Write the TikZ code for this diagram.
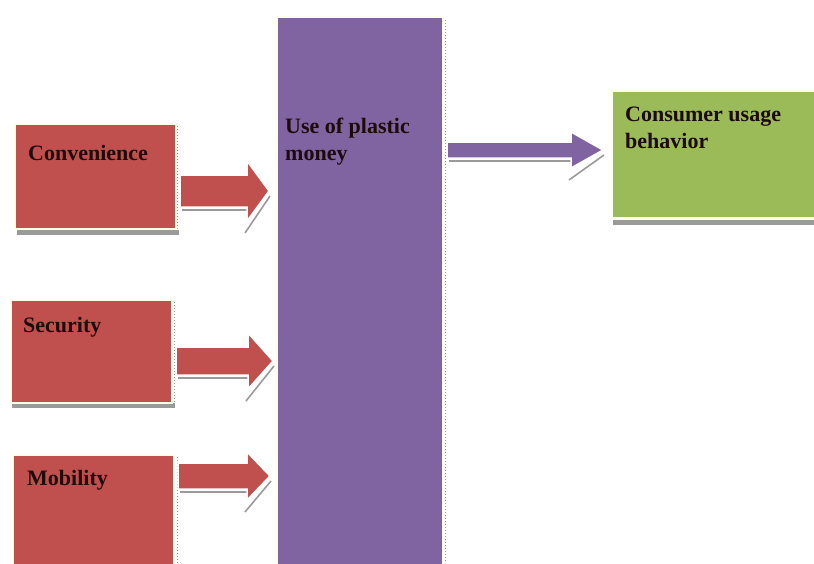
\documentclass[tikz,border=0pt]{standalone}
\usepackage{fontspec}
\setmainfont{Liberation Serif}
\definecolor{cred}{HTML}{C0504D}
\definecolor{cpurple}{HTML}{8064A2}
\definecolor{cgreen}{HTML}{9BBB59}
\definecolor{ctext}{HTML}{1E0A0A}
\definecolor{cshadow}{HTML}{9A9A9A}
\tikzset{
  box/.style={anchor=north west, inner sep=0pt, outer sep=0pt, draw=white!92!yellow, line width=1.2pt},
  lbl/.style={anchor=base west, inner sep=0pt, text=ctext, font=\fontsize{22}{27}\selectfont\bfseries, align=left},
  shadowbox/.style={fill=cshadow},
  arrowshape/.style={draw=white, line width=1.5pt, line join=miter},
}
% \blockarrow{name}{startx}{tipx}{cy}{halfshaft}{halfhead}{headlen}{colour}
\newcommand{\blockarrow}[8]{%
  \fill[cshadow] (#2+2,#4+#5+2) -- (#3-#7,#4+#5+2) -- (#3-#7,#4+#5+4) -- (#2+2,#4+#5+4) -- cycle;
  \draw[cshadow, line width=1.6pt] (#3-#7-2,#4+#6+12) -- (#3+1,#4+5);
  \draw[arrowshape, fill=#8] (#2,#4-#5) -- (#3-#7,#4-#5) -- (#3-#7,#4-#6) -- (#3,#4)
     -- (#3-#7,#4+#6) -- (#3-#7,#4+#5) -- (#2,#4+#5) -- cycle;
  \coordinate (#1) at (#3,#4);
}
\begin{document}
\begin{tikzpicture}[x=1pt, y=-1pt]
\useasboundingbox (0,0) rectangle (814,563);
% shadows for boxes
\fill[shadowbox] (17,230) rectangle (179,235);
\draw[cshadow, dotted, line width=1pt] (177,126) -- (177,232);
\fill[shadowbox] (12,403) rectangle (175,408);
\draw[cshadow, dotted, line width=1pt] (174,302) -- (174,405);
\draw[cshadow, dotted, line width=1pt] (177,457) -- (177,563);
\draw[cshadow, dotted, line width=1pt] (445,20) -- (445,563);
\fill[shadowbox] (613,220) rectangle (814,225);
% boxes
\node[box, fill=cred, minimum width=161pt, minimum height=105pt] (conv) at (15,124) {};
\node[box, fill=cred, minimum width=161pt, minimum height=103pt] (sec) at (11,300) {};
\node[box, fill=cred, minimum width=161pt, minimum height=110pt] (mob) at (13,455) {};
\node[box, fill=cpurple, minimum width=166pt, minimum height=550pt] (use) at (277,17) {};
\node[box, fill=cgreen, minimum width=205pt, minimum height=127pt] (cons) at (612,91) {};
% labels (base = baseline of last line)
\node[lbl] (tconv) at (28,160) {Convenience};
\node[lbl] (tsec) at (23,332) {Security};
\node[lbl] (tmob) at (27,485) {Mobility};
\node[lbl] (tuse) at (285,160) {Use of plastic\\money};
\node[lbl] (tcons) at (625,148) {Consumer usage\\behavior};
% arrows
\blockarrow{a1}{180}{269}{191}{16}{30}{22}{cred}
\blockarrow{a2}{176}{273}{361}{14}{28}{25}{cred}
\blockarrow{a3}{178}{270}{476}{13}{24}{23}{cred}
\blockarrow{a4}{447}{603}{150}{8}{18}{32}{cpurple}
\end{tikzpicture}
\end{document}
